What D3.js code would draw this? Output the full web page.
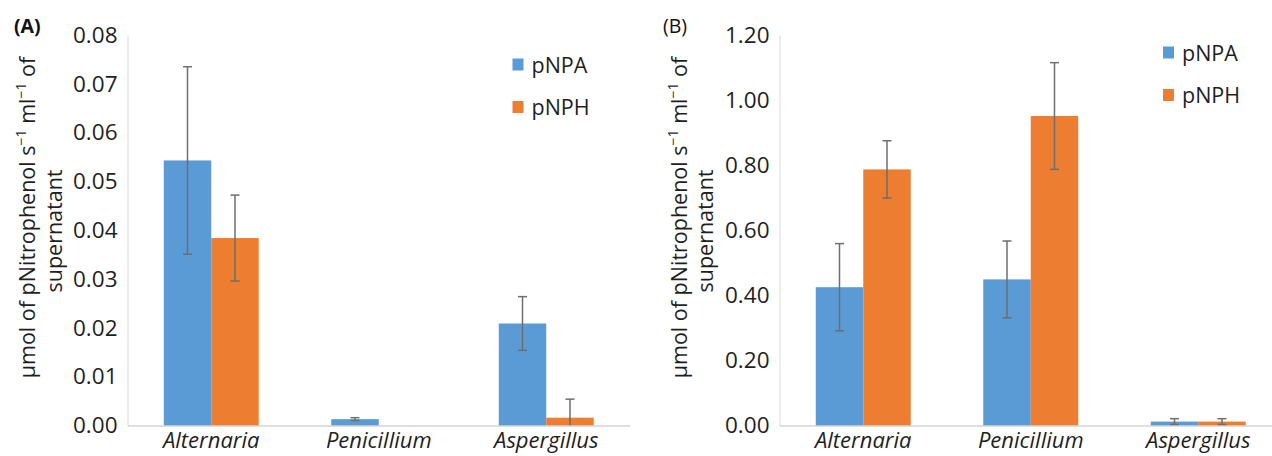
<!DOCTYPE html>
<html>
<head>
<meta charset="utf-8">
<script src="https://cdn.jsdelivr.net/npm/d3@7"></script>
<style>
  html, body { margin: 0; padding: 0; background: #fff; }
  svg { display: block; font-family: "Open Sans", "Noto Sans", sans-serif; }
</style>
</head>
<body>
<svg id="chart" width="1272" height="456"></svg>
<script>
// ---- data ----
const categories = ["Alternaria", "Penicillium", "Aspergillus"];
const seriesNames = ["pNPA", "pNPH"];
const seriesColors = ["#5B9BD5", "#ED7D31"];

// Panel A
const aPNPA = [0.0543, 0.0013, 0.0209];
const aPNPAerr = [0.0192, 0.0003, 0.0055];
const aPNPH = [0.0384, 0, 0.0016];
const aPNPHerr = [0.0088, 0, 0.0038];
const aTicks = [0, 0.01, 0.02, 0.03, 0.04, 0.05, 0.06, 0.07, 0.08];

// Panel B
const bPNPA = [0.425, 0.449, 0.012];
const bPNPAerr = [0.134, 0.118, 0.009];
const bPNPH = [0.787, 0.951, 0.012];
const bPNPHerr = [0.088, 0.164, 0.009];
const bTicks = [0, 0.2, 0.4, 0.6, 0.8, 1.0, 1.2];

const svg = d3.select("#chart");
const textColor = "#1f1f1f";

function panel(cfg) {
  const g = svg.append("g");
  const y = d3.scaleLinear().domain([0, cfg.ticks[cfg.ticks.length - 1]]).range([425.5, 35]);
  const x0 = d3.scaleBand().domain(categories).range(cfg.xRange)
    .paddingInner(0.433).paddingOuter(0.2165);
  const x1 = d3.scaleBand().domain(seriesNames).range([0, x0.bandwidth()]);

  // y axis
  const yAxis = g.append("g").attr("transform", `translate(${cfg.xRange[0]},0)`)
    .call(d3.axisLeft(y).tickValues(cfg.ticks).tickFormat(d3.format(".2f"))
      .tickSize(0).tickSizeOuter(0).tickPadding(10));
  yAxis.select(".domain").attr("stroke", "#D9D9D9").attr("stroke-width", 1);
  yAxis.selectAll("text").attr("font-size", 22.5).attr("fill", textColor)
    .attr("font-family", "'Open Sans', sans-serif");

  // bars
  const rows = categories.map((c, i) => ({
    cat: c,
    vals: [
      { s: seriesNames[0], v: cfg.s1[i], e: cfg.e1[i], color: seriesColors[0] },
      { s: seriesNames[1], v: cfg.s2[i], e: cfg.e2[i], color: seriesColors[1] }
    ]
  }));
  const grp = g.selectAll("g.cat").data(rows).enter().append("g")
    .attr("class", "cat").attr("transform", d => `translate(${x0(d.cat)},0)`);
  grp.selectAll("rect").data(d => d.vals.filter(v => v.v > 0)).enter().append("rect")
    .attr("x", d => x1(d.s))
    .attr("width", x1.bandwidth())
    .attr("y", d => y(d.v))
    .attr("height", d => y(0) - y(d.v))
    .attr("fill", d => d.color);

  // error bars
  const eb = grp.selectAll("g.err").data(d => d.vals.filter(v => v.v > 0 && v.e > 0)).enter()
    .append("g").attr("class", "err")
    .attr("stroke", "#6E6E6E").attr("stroke-width", 1.5);
  const cx = d => x1(d.s) + x1.bandwidth() / 2;
  eb.append("line")
    .attr("x1", cx).attr("x2", cx)
    .attr("y1", d => y(d.v + d.e)).attr("y2", d => y(Math.max(0, d.v - d.e)));
  eb.append("line")
    .attr("x1", d => cx(d) - 4.5).attr("x2", d => cx(d) + 4.5)
    .attr("y1", d => y(d.v + d.e)).attr("y2", d => y(d.v + d.e));
  eb.filter(d => d.v - d.e > 0).append("line")
    .attr("x1", d => cx(d) - 4.5).attr("x2", d => cx(d) + 4.5)
    .attr("y1", d => y(d.v - d.e)).attr("y2", d => y(d.v - d.e));

  // x axis
  const xAxis = g.append("g").attr("transform", `translate(0,${y(0)})`)
    .call(d3.axisBottom(x0).tickSize(0).tickSizeOuter(0).tickPadding(6.5));
  xAxis.select(".domain").attr("stroke", "#BFBFBF").attr("stroke-width", 1.2);
  xAxis.selectAll("text").attr("font-size", 22).attr("font-style", "italic")
    .attr("fill", textColor).attr("font-family", "'Open Sans', sans-serif");

  // y title (two lines)
  const t1 = g.append("text")
    .attr("transform", `translate(${cfg.titleX[0]},217.5) rotate(-90)`)
    .attr("text-anchor", "middle").attr("font-size", 21.5).attr("fill", textColor);
  t1.append("tspan").text("µmol of pNitrophenol  s");
  t1.append("tspan").attr("baseline-shift", "super").attr("font-size", 14).text("−1");
  t1.append("tspan").text(" ml");
  t1.append("tspan").attr("baseline-shift", "super").attr("font-size", 14).text("−1");
  t1.append("tspan").text(" of");
  g.append("text")
    .attr("transform", `translate(${cfg.titleX[1]},231) rotate(-90)`)
    .attr("text-anchor", "middle").attr("font-size", 21.5).attr("fill", textColor)
    .text("supernatant");

  // panel letter
  g.append("text").attr("x", cfg.letterX).attr("y", 33)
    .attr("font-size", 19.5).attr("font-weight", cfg.letterBold ? "bold" : "normal")
    .attr("fill", "#111").text(cfg.letter);

  // legend
  const lg = g.append("g").selectAll("g").data(seriesNames).enter().append("g")
    .attr("transform", (d, i) => `translate(${cfg.legend[0]},${cfg.legend[1] + i * cfg.legend[2]})`);
  lg.append("rect").attr("x", 0).attr("y", -14).attr("width", 11).attr("height", 12)
    .attr("fill", (d, i) => seriesColors[i]);
  lg.append("text").attr("x", 19).attr("y", 0).attr("font-size", 21.5)
    .attr("fill", textColor).text(d => d);
}

panel({
  s1: aPNPA, e1: aPNPAerr, s2: aPNPH, e2: aPNPHerr, ticks: aTicks,
  xRange: [127.5, 630], titleX: [35, 61.5], letter: "(A)", letterX: 14, letterBold: true,
  legend: [512.5, 72.5, 42.5]
});
panel({
  s1: bPNPA, e1: bPNPAerr, s2: bPNPH, e2: bPNPHerr, ticks: bTicks,
  xRange: [779.5, 1282], titleX: [687, 713], letter: "(B)", letterX: 663, letterBold: false,
  legend: [1163, 60.5, 42.5]
});
</script>
</body>
</html>
